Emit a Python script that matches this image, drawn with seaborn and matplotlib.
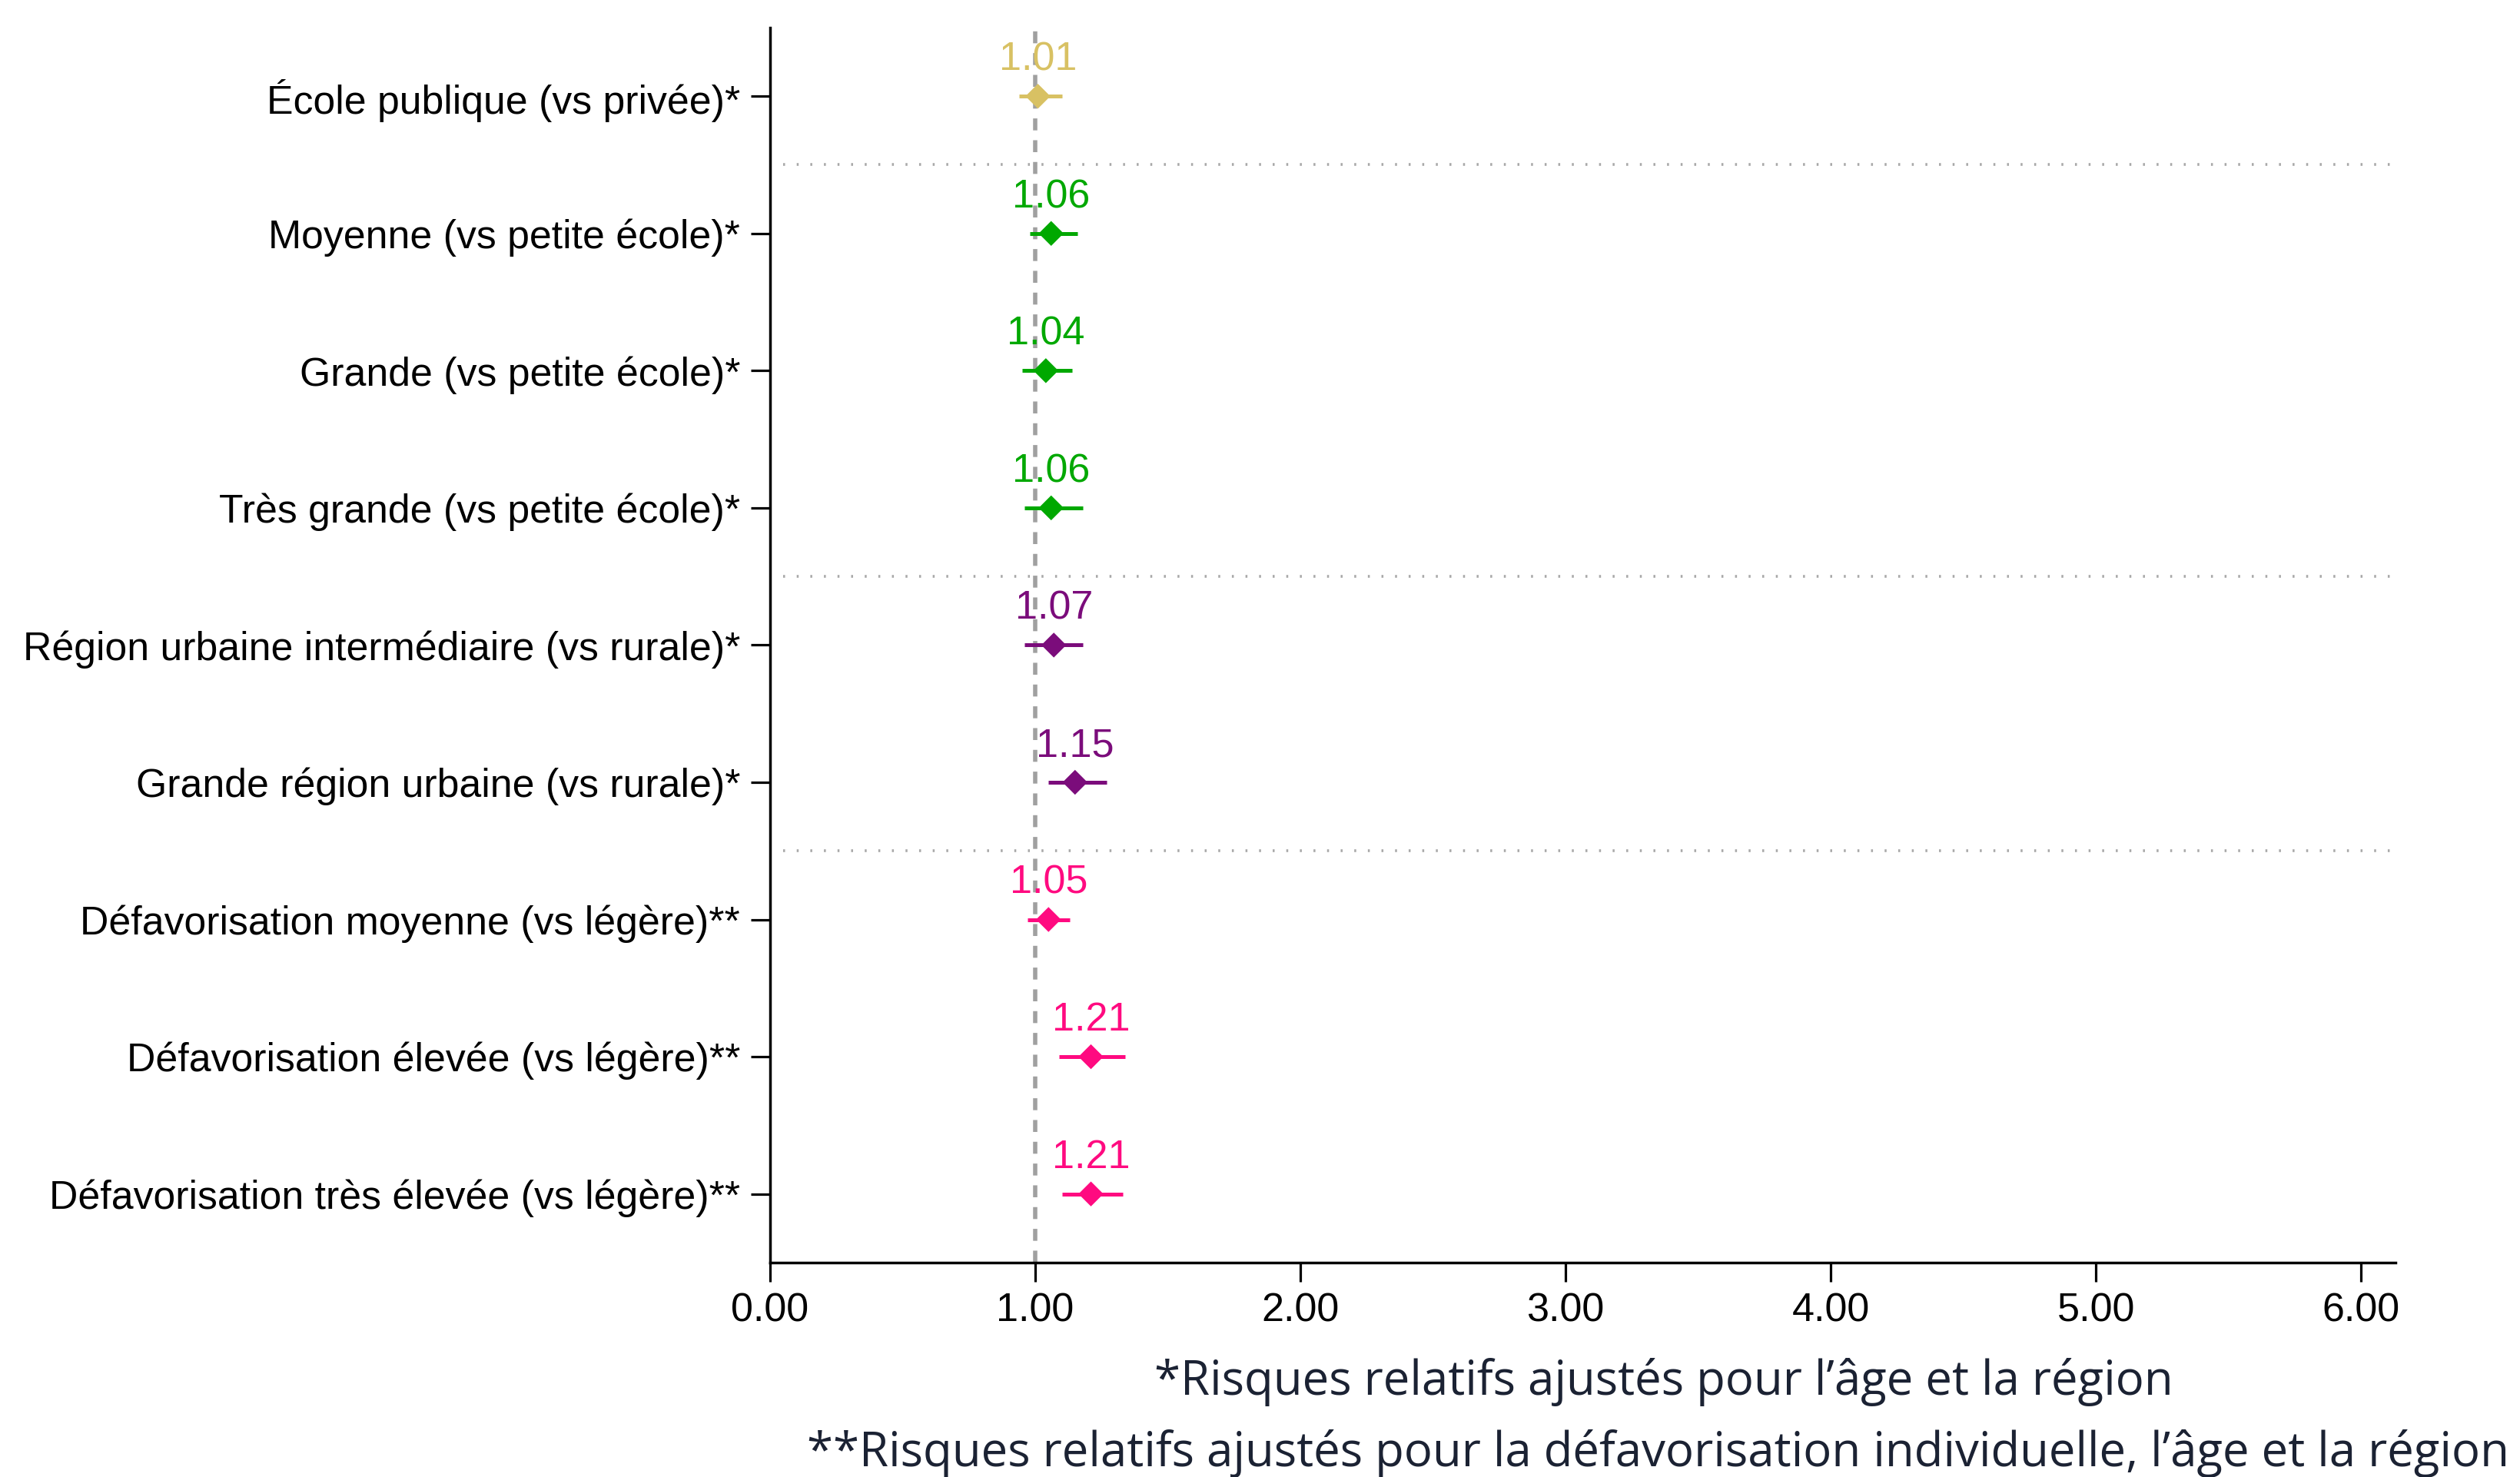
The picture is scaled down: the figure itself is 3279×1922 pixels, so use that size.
import matplotlib
matplotlib.use("Agg")
import matplotlib.pyplot as plt
import seaborn as sns
import pandas as pd
import numpy as np

# ---- data ----
labels = [
    "École publique (vs privée)*",
    "Moyenne (vs petite école)*",
    "Grande (vs petite école)*",
    "Très grande (vs petite école)*",
    "Région urbaine intermédiaire (vs rurale)*",
    "Grande région urbaine (vs rurale)*",
    "Défavorisation moyenne (vs légère)**",
    "Défavorisation élevée (vs légère)**",
    "Défavorisation très élevée (vs légère)**",
]
rr = [1.01, 1.06, 1.04, 1.06, 1.07, 1.15, 1.05, 1.21, 1.21]
ci_low = [0.94, 0.98, 0.95, 0.96, 0.96, 1.05, 0.97, 1.09, 1.10]
ci_high = [1.10, 1.16, 1.14, 1.18, 1.18, 1.27, 1.13, 1.34, 1.33]
group = ["Type", "Taille", "Taille", "Taille", "Région", "Région",
         "Défav", "Défav", "Défav"]
group_colors = {"Type": "#D8C163", "Taille": "#00A800",
                "Région": "#7B0C7B", "Défav": "#FF0A80"}
separators_after = [0, 3, 5]
xticks = [0, 1, 2, 3, 4, 5, 6]
notes = ["*Risques relatifs ajustés pour l’âge et la région",
         "**Risques relatifs ajustés pour la défavorisation individuelle, l’âge et la région"]

df = pd.DataFrame({"label": labels, "rr": rr, "lo": ci_low, "hi": ci_high,
                   "group": group})
df["pos"] = np.arange(len(df))

sns.set_theme(style="white")
plt.rcParams["font.family"] = ["Liberation Sans", "DejaVu Sans"]

fig = plt.figure(figsize=(32.8, 19.22), dpi=100)
ax = fig.add_axes([0.3055, 0.1452, 0.9503 - 0.3055, 0.9813 - 0.1452])

# reference line
ax.axvline(1.0, color="#a0a0a0", lw=4.0, linestyle=(0, (2.8, 2.3)), zorder=1)

# separators
for s in separators_after:
    ax.axhline(s + 0.5, xmin=0.008, xmax=1, color="#a8a8a8", lw=2.6,
               linestyle=(0, (0.7, 4.2)), zorder=1)

# CIs
for _, r in df.iterrows():
    ax.hlines(r["pos"], r["lo"], r["hi"], color=group_colors[r["group"]],
              lw=3.6, zorder=2)

sns.scatterplot(data=df, x="rr", y="pos", hue="group", palette=group_colors,
                marker="D", s=16.5 ** 2, edgecolor="none", legend=False,
                ax=ax, zorder=3)

for _, r in df.iterrows():
    ax.annotate(f"{r['rr']:.2f}", (r["rr"], r["pos"]), xytext=(0, 34),
                textcoords="offset points", ha="center", va="center",
                fontsize=37.5, color=group_colors[r["group"]])

ax.set_xlim(0, 6.13)
ax.set_ylim(8.5, -0.5)
ax.set_yticks(df["pos"])
ax.set_yticklabels(labels)
ax.set_xticks(xticks)
ax.set_xticklabels([f"{t:.2f}" for t in xticks])
ax.set_xlabel("")
ax.set_ylabel("")
ax.tick_params(axis="both", length=18, width=2.3,
               color="black", labelcolor="black", direction="out")
ax.tick_params(axis="y", left=True, labelsize=37.3, pad=10)
ax.tick_params(axis="x", bottom=True, labelsize=37.5, pad=10)
for side in ["top", "right"]:
    ax.spines[side].set_visible(False)
for side in ["left", "bottom"]:
    ax.spines[side].set_visible(True)
    ax.spines[side].set_color("black")
    ax.spines[side].set_linewidth(2.5)
ax.grid(False)

fig.text(2165 / 3280, 1 - 1815 / 1922, notes[0], ha="center", va="baseline",
         fontsize=44.5, color="#1b2233", family=["Open Sans", "DejaVu Sans"])
fig.text(2158 / 3280, 1 - 1908 / 1922, notes[1], ha="center", va="baseline",
         fontsize=44.5, color="#1b2233", family=["Open Sans", "DejaVu Sans"])

fig.savefig("out.png", dpi=100, facecolor="white")
